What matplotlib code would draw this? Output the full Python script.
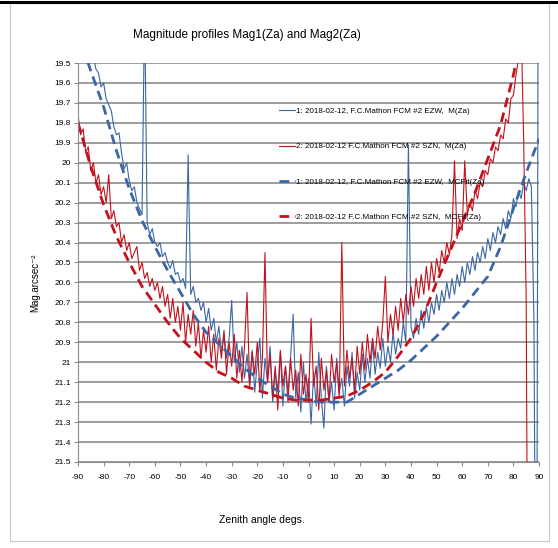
import matplotlib
matplotlib.use("Agg")
import matplotlib.pyplot as plt
from matplotlib.patches import Rectangle
from matplotlib.lines import Line2D
import numpy as np

plt.rcParams["axes.unicode_minus"] = False

# zenith angle grid for the measured profiles, one reading per degree
za = np.arange(-90, 91)

# 1: EZW measured magnitudes M(Za)
mag_ezw = [
    19.30, 19.34, 19.36, 19.41, 19.44, 19.49, 19.47, 19.53, 19.55, 19.62,
    19.60, 19.68, 19.71, 19.74, 19.82, 19.86, 19.85, 19.95, 20.03, 20.00,
    20.09, 20.14, 20.12, 20.20, 20.23, 20.26, 19.20, 20.30, 20.36, 20.33,
    20.40, 20.42, 20.40, 20.47, 20.45, 20.50, 20.53, 20.49, 20.56, 20.55,
    20.60, 20.58, 20.63, 19.96, 20.66, 20.62, 20.70, 20.68, 20.74, 20.70,
    20.80, 20.73, 20.84, 20.78, 20.90, 20.82, 20.95, 20.86, 20.98, 20.88,
    20.69, 21.00, 20.90, 21.05, 20.92, 21.08, 20.96, 21.12, 20.94, 21.15,
    21.00, 20.88, 21.18, 20.98, 21.10, 20.92, 21.20, 21.05, 21.14, 20.95,
    21.22, 21.02, 21.15, 20.97, 20.76, 21.18, 21.05, 21.25, 21.00, 21.20,
    21.08, 21.31, 21.05, 21.22, 20.95, 21.18, 21.33, 21.02, 21.20, 21.10,
    21.24, 20.98, 21.15, 21.08, 21.22, 21.02, 21.12, 20.95, 21.18, 21.05,
    21.14, 20.96, 21.10, 20.98, 21.08, 20.90, 21.06, 20.95, 21.03, 20.88,
    21.02, 20.92, 21.00, 20.85, 20.96, 20.88, 20.93, 20.80, 20.90, 19.91,
    20.82, 20.88, 20.78, 20.86, 20.74, 20.83, 20.72, 20.80, 20.70, 20.76,
    20.66, 20.74, 20.64, 20.70, 20.60, 20.68, 20.58, 20.66, 20.56, 20.62,
    20.52, 20.60, 20.50, 20.56, 20.47, 20.54, 20.45, 20.50, 20.42, 20.48,
    20.38, 20.44, 20.35, 20.40, 20.32, 20.36, 20.28, 20.33, 20.24, 20.28,
    20.18, 20.22, 20.14, 20.18, 20.10, 20.14, 20.08, 20.12, 20.78, 23.00,
    17.00,
]

# 2: SZN measured magnitudes M(Za)
mag_szn = [
    19.76, 19.86, 19.83, 19.95, 19.92, 20.04, 20.00, 20.10, 20.06, 20.16,
    20.12, 20.20, 20.06, 20.28, 20.24, 20.32, 20.30, 20.40, 20.36, 20.44,
    20.40, 20.48, 20.45, 20.42, 20.54, 20.50, 20.58, 20.55, 20.62, 20.58,
    20.64, 20.60, 20.68, 20.62, 20.72, 20.66, 20.78, 20.68, 20.80, 20.72,
    20.84, 20.70, 20.90, 20.76, 20.86, 20.74, 20.92, 20.80, 20.98, 20.84,
    20.95, 20.82, 21.00, 20.86, 21.04, 20.88, 20.98, 20.84, 21.06, 20.90,
    21.02, 20.86, 21.08, 20.94, 21.10, 20.92, 20.65, 21.12, 20.95, 21.06,
    20.90, 21.15, 20.98, 20.45, 21.10, 20.96, 21.18, 21.02, 21.24, 20.94,
    21.12, 21.02, 21.20, 20.98, 21.14, 21.04, 21.22, 20.96, 21.16, 21.06,
    21.20, 20.78, 21.12, 21.02, 21.24, 20.98, 21.14, 21.04, 21.20, 20.96,
    21.10, 21.00, 21.18, 20.40, 21.12, 20.94, 21.08, 20.98, 21.14, 20.92,
    21.06, 20.90, 21.04, 20.86, 21.00, 20.88, 20.98, 20.82, 20.94, 20.80,
    20.57, 20.90, 20.76, 20.86, 20.72, 20.84, 20.68, 20.80, 20.66, 20.76,
    20.62, 20.72, 20.58, 20.68, 20.56, 20.66, 20.52, 20.64, 20.50, 20.60,
    20.48, 20.55, 20.44, 20.50, 20.40, 20.46, 20.36, 19.99, 20.38, 20.28,
    20.34, 19.99, 20.26, 20.20, 20.24, 20.14, 20.18, 20.10, 20.12, 20.04,
    20.06, 19.98, 20.00, 19.92, 19.94, 19.86, 19.88, 19.78, 19.80, 19.68,
    19.66, 19.56, 19.48, 19.30, 19.88, 20.70, 23.50, 23.50, 23.50, 23.50,
    23.50,
]

# fitted profiles MCFit(Za), every 5 degrees
za_fit = np.arange(-90, 91, 5)
fit_ezw = [
    19.35, 19.54, 19.72, 19.94, 20.13, 20.29, 20.42, 20.54, 20.65, 20.76,
    20.85, 20.91, 20.97, 21.03, 21.08, 21.12, 21.16, 21.18, 21.19, 21.20,
    21.20, 21.20, 21.16, 21.12, 21.08, 21.04, 20.99, 20.93, 20.87, 20.80,
    20.73, 20.65, 20.57, 20.42, 20.23, 20.05, 19.88,
]
fit_szn = [
    19.80, 20.02, 20.21, 20.37, 20.50, 20.62, 20.71, 20.80, 20.88, 20.94,
    21.00, 21.05, 21.08, 21.12, 21.14, 21.16, 21.18, 21.19, 21.19, 21.19,
    21.18, 21.17, 21.14, 21.10, 21.05, 20.97, 20.88, 20.76, 20.60, 20.45,
    20.30, 20.15, 19.98, 19.81, 19.56, 19.25, 18.90,
]

labels = [
    "1: 2018-02-12, F.C.Mathon FCM #2 EZW,  M(Za)",
    "2: 2018-02-12 F.C.Mathon FCM #2 SZN,  M(Za)",
    "1: 2018-02-12, F.C.Mathon FCM #2 EZW,  MCFit(Za)",
    "2: 2018-02-12 F.C.Mathon FCM #2 SZN,  MCFit(Za)",
]

blue = "#3b67a5"
red = "#c3121c"
font = ["Liberation Sans", "DejaVu Sans"]

fig = plt.figure(figsize=(5.58, 5.48), dpi=100)
ax = fig.add_axes([0.1398, 0.157, 0.8262, 0.728])

# outer chart frame
fig.patches.append(Rectangle((10 / 558, 7 / 548), 539 / 558, 538 / 548,
                             transform=fig.transFigure, fill=False,
                             edgecolor="#c8c8c8", lw=0.8))
fig.lines.append(Line2D([0, 1], [0.997, 0.997], transform=fig.transFigure,
                        color="black", lw=2.2))

ax.plot(za, mag_ezw, color=blue, lw=0.8, label=labels[0])
ax.plot(za, mag_szn, color=red, lw=0.8, label=labels[1])
ax.plot(za_fit, fit_ezw, color=blue, lw=2.0, dashes=(3.5, 2.0), label=labels[2])
ax.plot(za_fit, fit_szn, color=red, lw=2.0, dashes=(3.5, 2.0), label=labels[3])

ax.set_xlim(-90, 90)
ax.set_ylim(21.5, 19.5)
ax.set_xticks(np.arange(-90, 91, 10))
yt = np.round(np.arange(19.5, 21.51, 0.1), 1)
ax.set_yticks(yt)
ax.set_yticklabels([("%g" % v) for v in yt])
ax.grid(axis="y", color="#8c8c8c", lw=1.2)
ax.set_axisbelow(True)
for s in ["top", "right"]:
    ax.spines[s].set_visible(False)
ax.spines["left"].set_color("#8c8c8c")
ax.spines["bottom"].set_color("#8c8c8c")
ax.tick_params(axis="both", colors="#8c8c8c", length=3, width=0.8,
               labelcolor="black", labelsize=6, pad=2)
for t in ax.get_xticklabels() + ax.get_yticklabels():
    t.set_family(font)
ax.tick_params(axis="x", pad=6)

fig.text(0.443, 0.936, "Magnitude profiles Mag1(Za) and Mag2(Za)",
         ha="center", va="center", fontsize=8.5, family=font)
fig.text(0.47, 0.051, "Zenith angle degs.", ha="center", va="center",
         fontsize=7.5, family=font)
fig.text(0.063, 0.4836, "Mag.arcsec\u207b\u00b2", rotation=90, ha="center",
         va="center", fontsize=7, family=font)

ax.legend(loc="upper left", bbox_to_anchor=(0.43, 0.897), frameon=False,
          prop={"family": font, "size": 5.8}, labelspacing=3.45,
          handlelength=1.9, handletextpad=0.15, borderaxespad=0)

fig.savefig("out.png", dpi=100)
